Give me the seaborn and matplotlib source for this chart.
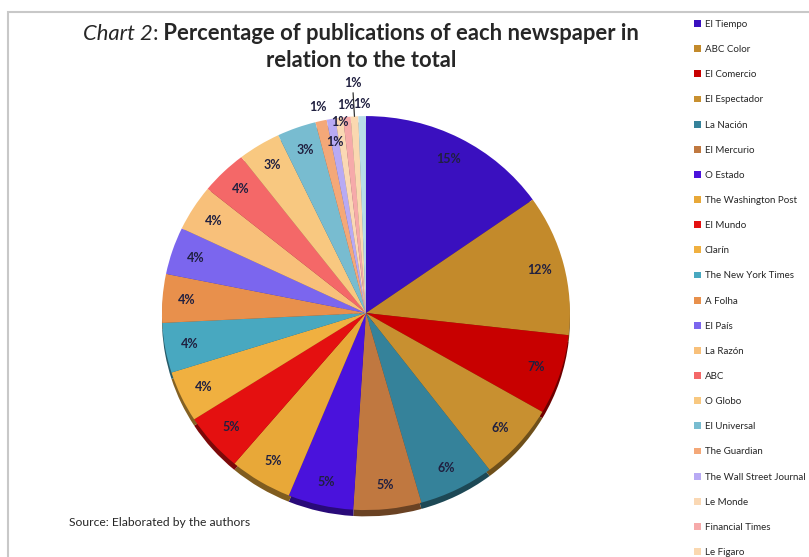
import matplotlib.pyplot as plt
import matplotlib.colors as mcolors
from matplotlib.patches import Rectangle
import seaborn as sns
import numpy as np

# newspapers in the order of the slices (clockwise from 12 o'clock)
newspapers = ['El Tiempo', 'ABC Color', 'El Comercio', 'El Espectador', 'La Nación',
              'El Mercurio', 'O Estado', 'The Washington Post', 'El Mundo', 'Clarín',
              'The New York Times', 'A Folha', 'El País', 'La Razón', 'ABC', 'O Globo',
              'El Universal', 'The Guardian', 'The Wall Street Journal', 'Le Monde',
              'Financial Times', 'Le Figaro']
# share of publications (%), last slice's legend entry is cut off in the source
shares = [15.3, 11.6, 6.6, 6.3, 6.0, 5.4, 5.2, 5.0, 4.8, 4.2, 4.1, 4.0, 3.9, 3.8, 3.7,
          3.4, 3.1, 0.9, 0.7, 0.6, 0.6, 0.6, 0.6]
colors = ['#3A10BF', '#C38A2B', '#C80000', '#C89030', '#35829A', '#C07840', '#4A12DC',
          '#E8A838', '#E41010', '#F0B040', '#48A8C0', '#E8904C', '#7B66EE', '#F8C07A',
          '#F46868', '#F8C880', '#78BCD0', '#F4A878', '#B8AAF4', '#FAD8B4', '#F6AAAA',
          '#FAD8B0', '#B8DCE8']
# radius of the percent label for each slice (small ones sit outside)
label_r = [0.88] * 17 + [1.07, 0.88, 0.98, 1.06, 1.17, 1.06]

sns.set_theme(style='white')
plt.rcParams['font.family'] = ['Lato', 'DejaVu Sans']

fig = plt.figure(figsize=(8.09, 5.57), dpi=100)
ax = fig.add_axes([0.2002, 0.0666, 0.5043, 0.725])

# 3D-ish rim under the pie
dark = [tuple(c * 0.55 for c in mcolors.to_rgb(col)) for col in colors]
ax.pie(shares, colors=dark, startangle=90, counterclock=False, center=(0, -0.032),
       wedgeprops=dict(linewidth=0))
wedges, _, autotexts = ax.pie(shares, colors=colors, startangle=90, counterclock=False,
                              autopct='%.0f%%', pctdistance=0.88,
                              wedgeprops=dict(linewidth=0),
                              textprops=dict(fontsize=9, fontweight='bold', color='#202040'))
ax.set_aspect('auto')
ax.set_xlim(-1, 1)
ax.set_ylim(-1.05, 1)

for w, t, r in zip(wedges, autotexts, label_r):
    mid = np.deg2rad((w.theta1 + w.theta2) / 2)
    t.set_position((r * np.cos(mid), r * np.sin(mid)))

# leader line for Le Figaro
mid = np.deg2rad((wedges[21].theta1 + wedges[21].theta2) / 2)
ax.plot([np.cos(mid), 1.12 * np.cos(mid)], [np.sin(mid), 1.12 * np.sin(mid)],
        color='#333333', lw=0.9, clip_on=False)

# title in mixed styles
t1 = fig.text(83 / 809, 1 - 34 / 557, 'Chart 2', fontsize=15.8, style='italic', va='center')
t2 = fig.text(0, 0, ':', fontsize=15.8, va='center')
t3 = fig.text(0, 0, ' Percentage of publications of each newspaper in', fontsize=15.8,
              fontweight='bold', va='center')
fig.canvas.draw()
r = fig.canvas.get_renderer()
bb = t1.get_window_extent(r)
t2.set_position(((bb.x1) / fig.bbox.width, 1 - 34 / 557))
bb2 = t2.get_window_extent(r)
t3.set_position(((bb2.x1) / fig.bbox.width, 1 - 34 / 557))
fig.text(361 / 809, 1 - 61 / 557, 'relation to the total', fontsize=15.8, fontweight='bold',
         ha='center', va='center')

fig.legend(handles=wedges[:len(newspapers)], labels=newspapers, loc='upper left',
           bbox_to_anchor=(694 / 809, 1 - 20 / 557), frameon=False, fontsize=7,
           handlelength=0.7, handleheight=0.7, handletextpad=0.4, labelspacing=1.66,
           borderaxespad=0, borderpad=0)

fig.text(69 / 809, 1 - 523 / 557, 'Source: Elaborated by the authors', fontsize=8.75,
         va='center')

fig.patches.append(Rectangle((8 / 809, -0.1), 1.2, 0.1 + (557 - 12) / 557,
                             transform=fig.transFigure, fill=False,
                             edgecolor='#c8c8c8', lw=1.5))

fig.savefig('out.png', dpi=100)
